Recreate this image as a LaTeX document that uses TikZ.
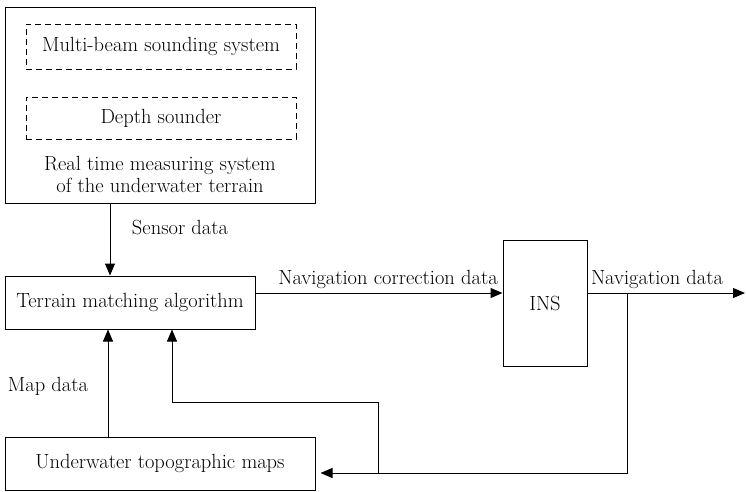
\documentclass[tikz,border=0pt]{standalone}
\usetikzlibrary{arrows.meta, positioning, calc}
\tikzset{
  >=Triangle,
  font=\rmfamily\fontsize{20.5}{22}\selectfont,
  blk/.style={
    draw=black, fill=white, line width=1pt, inner sep=0pt, align=center
  },
  dbox/.style={
    draw=black, line width=1pt, dash pattern=on 6pt off 4pt,
    inner sep=0pt, minimum width=270pt, align=center
  },
  arr/.style={-{Triangle[length=12pt,width=10pt]}, line width=1pt, draw=black},
  lab/.style={inner sep=0pt, align=center}
}

\begin{document}
\begin{tikzpicture}[x=1pt, y=-1pt]
  \useasboundingbox (0,0) rectangle (746,491);
  % measuring system with its two sounders
  \node[blk, minimum width=310pt, minimum height=196pt] (rtm) at (160,105) {};
  \node[dbox, minimum height=45pt] (mbss) at (161,46.5) {Multi-beam sounding system};
  \node[dbox, minimum height=42pt] (depth) at (161,118) {Depth sounder};
  \node[lab] (rtmlab) at (160,174) {Real time measuring system\\of the underwater terrain};
  % main blocks
  \node[blk, minimum width=250pt, minimum height=53pt] (tma) at (130,302.5) {Terrain matching algorithm};
  \node[blk, minimum width=84pt, minimum height=126pt] (ins) at (545,303) {INS};
  \node[blk, minimum width=310pt, minimum height=53pt] (utm) at (160,463.5) {Underwater topographic maps};
  % routing points
  \coordinate (sx) at (110,0);
  \coordinate (mx) at (108,0);
  \coordinate (fx) at (172,0);
  \coordinate (navy) at (0,293);
  \coordinate (split) at (627,293);
  \coordinate (out) at (745,293);
  \coordinate (back) at (627,473);
  \coordinate (tee) at (378,473);
  \coordinate (bend) at (378,402);
  % connectors
  \draw[arr] (rtm.south -| sx) -- (tma.north -| sx);
  \draw[arr] (utm.north -| mx) -- (tma.south -| mx);
  \draw[arr] (tma.east |- navy) -- (ins.west |- navy);
  \draw[arr] (ins.east |- navy) -- (out);
  \draw[arr, shorten >=5pt] (split) -- (back) -- (utm.east |- back);
  \draw[arr] (tee) -- (bend) -- (bend -| fx) -- (tma.south -| fx);
  % labels
  \node[lab] (sens) at (180,227) {Sensor data};
  \node[lab] (ncd) at (388,279) {Navigation correction data};
  \node[lab] (nd) at (657,279) {Navigation data};
  \node[lab] (md) at (48,386) {Map data};
\end{tikzpicture}
\end{document}
